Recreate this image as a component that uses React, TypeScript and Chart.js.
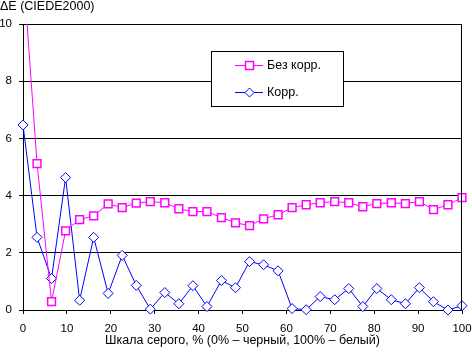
import React, { useEffect, useRef } from "react";
import { Chart, registerables } from "chart.js";

Chart.register(...registerables);

const grayPercent = [
  0, 3.2, 6.5, 9.7, 12.9, 16.1, 19.4, 22.6, 25.8, 29.0, 32.3, 35.5, 38.7, 41.9, 45.2, 48.4,
  51.6, 54.8, 58.1, 61.3, 64.5, 67.7, 71.0, 74.2, 77.4, 80.6, 83.9, 87.1, 90.3, 93.5, 96.8, 100,
];
const noCorrection = [
  12.0, 5.12, 0.29, 2.77, 3.16, 3.29, 3.71, 3.58, 3.74, 3.79, 3.75, 3.54, 3.44, 3.44, 3.23, 3.05,
  2.95, 3.19, 3.33, 3.58, 3.68, 3.75, 3.79, 3.75, 3.61, 3.72, 3.75, 3.72, 3.79, 3.51, 3.68, 3.93,
];
const withCorrection = [
  6.47, 2.54, 1.1, 4.63, 0.34, 2.54, 0.58, 1.91, 0.86, 0.03, 0.61, 0.22, 0.85, 0.12, 1.03, 0.78,
  1.69, 1.58, 1.37, 0.05, 0.01, 0.47, 0.36, 0.75, 0.12, 0.75, 0.36, 0.22, 0.78, 0.29, 0.0, 0.15,
];
const seriesNames = ["Без корр.", "Корр."];
const yTitle = "ΔE (CIEDE2000)";
const xTitle = "Шкала серого, % (0% – черный, 100% – белый)";

const FONT = "'Liberation Sans', Arial, sans-serif";
const MAGENTA = "#FF00FF";
const BLUE = "#0000FF";

const decorPlugin = {
  id: "decor",
  afterDraw(chart: any) {
    const { ctx, chartArea } = chart;
    ctx.save();
    ctx.lineWidth = 1;
    ctx.strokeStyle = "#000000";
    ctx.beginPath();
    const rx = Math.round(chartArea.right) - 0.5;
    ctx.moveTo(rx, chartArea.top);
    ctx.lineTo(rx, chartArea.bottom);
    ctx.stroke();

    ctx.fillStyle = "#000000";
    ctx.font = `12.5px ${FONT}`;
    ctx.textBaseline = "alphabetic";
    ctx.textAlign = "left";
    ctx.fillText(yTitle, 0, 10);
    ctx.textAlign = "center";
    ctx.fillText(xTitle, (chartArea.left + chartArea.right) / 2, 344);

    const bx = 211.5, by = 51.5, bw = 132, bh = 55;
    ctx.fillStyle = "#ffffff";
    ctx.fillRect(bx, by, bw, bh);
    ctx.strokeStyle = "#000000";
    ctx.strokeRect(bx, by, bw, bh);

    const items = [
      { name: seriesNames[0], color: MAGENTA, kind: "square", y: 65.5 },
      { name: seriesNames[1], color: BLUE, kind: "diamond", y: 92.5 },
    ];
    for (const it of items) {
      ctx.beginPath();
      ctx.moveTo(235, it.y);
      ctx.lineTo(263, it.y);
      ctx.lineWidth = 1;
      ctx.strokeStyle = it.color;
      ctx.stroke();
      ctx.beginPath();
      if (it.kind === "square") {
        ctx.rect(245.5, it.y - 4, 8, 8);
      } else {
        ctx.moveTo(249.5, it.y - 4.5);
        ctx.lineTo(254, it.y);
        ctx.lineTo(249.5, it.y + 4.5);
        ctx.lineTo(245, it.y);
        ctx.closePath();
      }
      ctx.fillStyle = "#ffffff";
      ctx.fill();
      ctx.lineWidth = it.kind === "square" ? 1.5 : 1;
      ctx.strokeStyle = it.color;
      ctx.stroke();
      ctx.fillStyle = "#000000";
      ctx.font = `12.5px ${FONT}`;
      ctx.textAlign = "left";
      ctx.textBaseline = "middle";
      ctx.fillText(it.name, 267, it.y + 0.5);
    }
    ctx.restore();
  },
};

export default function App() {
  const ref = useRef<HTMLCanvasElement>(null);
  useEffect(() => {
    document.body.style.margin = "0";
    const toPts = (vals: number[]) => vals.map((v, i) => ({ x: grayPercent[i], y: v }));
    const clip = { left: 8, right: 8, top: 0, bottom: 8 } as any;
    const chart = new Chart(ref.current!, {
      type: "line",
      data: {
        datasets: [
          {
            label: seriesNames[0],
            data: toPts(noCorrection),
            borderColor: MAGENTA,
            backgroundColor: "#fff",
            borderWidth: 1,
            pointStyle: "rect",
            pointRadius: 5.5,
            pointBorderWidth: 1.5,
            pointBorderColor: MAGENTA,
            pointBackgroundColor: "#fff",
            tension: 0,
            clip,
          },
          {
            label: seriesNames[1],
            data: toPts(withCorrection),
            borderColor: BLUE,
            backgroundColor: "#fff",
            borderWidth: 1,
            pointStyle: "rectRot",
            pointRadius: 5,
            pointBorderWidth: 1,
            pointBorderColor: BLUE,
            pointBackgroundColor: "#fff",
            tension: 0,
            clip,
          },
        ],
      },
      options: {
        animation: false,
        responsive: false,
        devicePixelRatio: 1,
        layout: { padding: { top: 24, right: 10, left: 0, bottom: 0 }, autoPadding: false },
        plugins: { legend: { display: false }, tooltip: { enabled: false } },
        scales: {
          x: {
            type: "linear",
            min: 0,
            max: 100,
            afterFit: (s: any) => {
              s.height = 43;
              s.paddingLeft = 0;
              s.paddingRight = 0;
              s.paddingTop = 0;
              s.paddingBottom = 0;
            },
            ticks: { stepSize: 10, color: "#000", font: { family: FONT, size: 11.5 }, padding: 8, maxRotation: 0, autoSkip: false },
            grid: { drawOnChartArea: false, color: "#000", tickLength: 4 },
            border: { color: "#000" },
          },
          y: {
            min: 0,
            max: 10,
            afterFit: (s: any) => {
              s.width = 23;
              s.paddingLeft = 0;
              s.paddingRight = 0;
              s.paddingTop = 0;
              s.paddingBottom = 0;
            },
            ticks: { stepSize: 2, color: "#000", font: { family: FONT, size: 11.5 }, padding: 7 },
            grid: { color: "#000", tickLength: 4 },
            border: { color: "#000" },
          },
        },
      },
      plugins: [decorPlugin],
    });
    return () => chart.destroy();
  }, []);
  return (
    <div style={{ width: 472, height: 353 }}>
      <canvas ref={ref} width={472} height={353} />
    </div>
  );
}
